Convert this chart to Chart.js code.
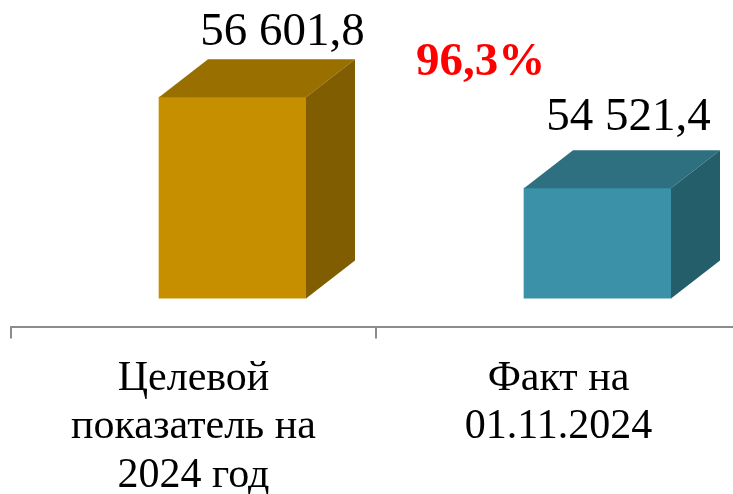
<!DOCTYPE html>
<html><head><meta charset="utf-8">
<style>html,body{margin:0;padding:0;background:#fff;overflow:hidden}#wrap{width:733px;height:494px;position:relative;overflow:hidden}</style>
<script src="https://cdn.jsdelivr.net/npm/chart.js@4.4.1/dist/chart.umd.min.js"></script>
</head><body><div id="wrap"><canvas id="c" width="742" height="516"></canvas></div>
<script>
// ---- data ----
const categories = [["Целевой", "показатель на", "2024 год"], ["Факт на", "01.11.2024"]];
const values = [56601.8, 54521.4];
const valueLabels = ["56 601,8", "54 521,4"];
const percentLabel = "96,3%";
const axisMin = 52000;
const axisMax = 58000;

// ---- styles ----
const frontColors = ["#C68F00", "#3A91A8"];
const topColors = ["#997000", "#2E7080"];
const sideColors = ["#7F5D00", "#245E6B"];
const shift = {x: 39, y: -29};     // front-face offset of the 3D bars
const depth = {x: 49, y: -38};     // 3D depth of the bars
const labelOffsets = [[50, -52], [31, -58]];
const SERIF = "'Liberation Serif', 'Times New Roman', serif";

const bar3d = {
  id: 'bar3d',
  beforeDatasetsDraw(chart) {
    chart.ctx.save();
    chart.ctx.translate(shift.x, shift.y);
  },
  afterDatasetsDraw(chart) {
    const ctx = chart.ctx;
    const meta = chart.getDatasetMeta(0);
    const bottom = chart.scales.y.getPixelForValue(axisMin);
    meta.data.forEach((bar, i) => {
      const p = bar.getProps(['x', 'y', 'base', 'width'], true);
      const l = p.x - p.width / 2, r = p.x + p.width / 2, t = p.y, b = Math.min(p.base, bottom);
      // top face
      ctx.beginPath();
      ctx.moveTo(l, t); ctx.lineTo(l + depth.x, t + depth.y);
      ctx.lineTo(r + depth.x, t + depth.y); ctx.lineTo(r, t); ctx.closePath();
      ctx.fillStyle = topColors[i]; ctx.fill();
      // side face
      ctx.beginPath();
      ctx.moveTo(r, t); ctx.lineTo(r + depth.x, t + depth.y);
      ctx.lineTo(r + depth.x, b + depth.y); ctx.lineTo(r, b); ctx.closePath();
      ctx.fillStyle = sideColors[i]; ctx.fill();
      // value label
      ctx.fillStyle = '#000';
      ctx.font = "47px " + SERIF;
      ctx.textAlign = 'center';
      ctx.textBaseline = 'alphabetic';
      ctx.fillText(valueLabels[i], p.x + labelOffsets[i][0], t + labelOffsets[i][1]);
    });
    ctx.restore();
    // percentage annotation
    const a = chart.chartArea;
    ctx.save();
    ctx.fillStyle = '#FF0000';
    ctx.font = "bold 47px " + SERIF;
    ctx.textAlign = 'left';
    ctx.textBaseline = 'alphabetic';
    ctx.fillText(percentLabel, a.left + 405, a.top + 10);
    ctx.restore();
  }
};

new Chart(document.getElementById('c'), {
  type: 'bar',
  data: {
    labels: categories,
    datasets: [{
      data: values,
      backgroundColor: frontColors,
      borderWidth: 0,
      barThickness: 147
    }]
  },
  options: {
    responsive: false,
    animation: false,
    events: [],
    layout: {padding: {left: 11, right: 1, top: 65, bottom: 0}},
    plugins: {legend: {display: false}, tooltip: {enabled: false}},
    scales: {
      y: {display: false, min: axisMin, max: axisMax},
      x: {
        offset: true,
        grid: {display: true, offset: true, drawOnChartArea: false, drawTicks: true,
               tickLength: 11, color: '#8C8C8C', lineWidth: 2},
        border: {display: true, color: '#8C8C8C', width: 2},
        ticks: {color: '#000', padding: 16, maxRotation: 0, autoSkip: false,
                font: {family: SERIF, size: 42, lineHeight: 1.155}}
      }
    }
  },
  plugins: [bar3d]
});
</script>
</body></html>
